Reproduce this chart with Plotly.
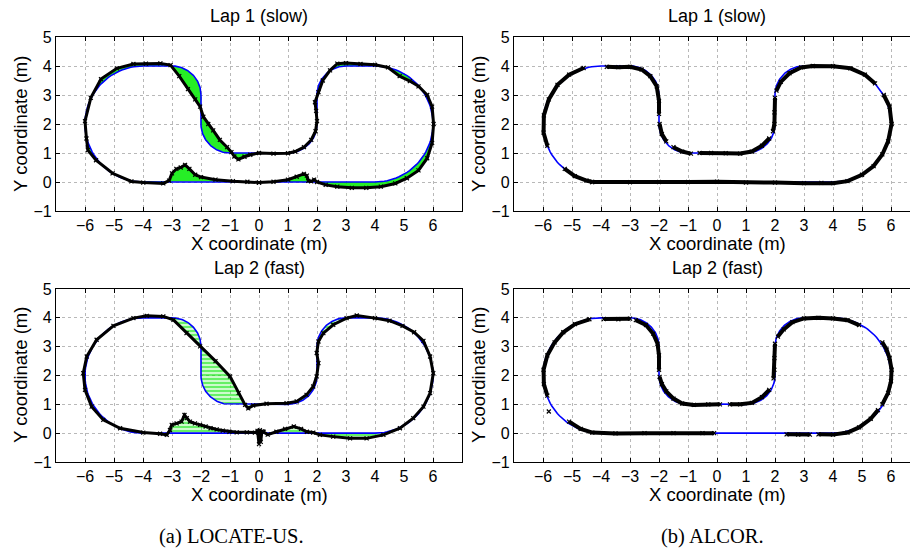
import numpy as np
import plotly.graph_objects as go

# ---------------- data ----------------
# reference track: arcs (centre, radius, start/end angle in degrees), joined by straight lines
arc_cx = [4, 3, 1, -1, -3, -4]
arc_cy = [2, 3, 2, 2, 3, 2]
arc_r = [2, 1, 1, 1, 1, 2]
arc_a0 = [-90, 90, 0, -90, 0, 90]
arc_a1 = [90, 180, -90, -180, 90, 270]

# LOCATE-US, lap 1 (slow)
loc1_x = [0.0, 0.5, 1.0, 1.3, 1.55, 1.65, 1.7, 1.8, 1.9, 2.0, 2.3, 2.7, 3.2, 3.7, 4.2, 4.7, 5.1, 5.5, 5.8, 5.97,
          6.02, 5.97, 5.8, 5.5, 5.2, 4.85, 4.45, 4.0, 3.5, 3.0, 2.7, 2.45, 2.2, 2.05, 1.93, 1.97, 2.0, 1.95, 1.8,
          1.55, 1.25, 1.0, 0.5, 0.0, -0.3, -0.5, -0.71, -0.85, -0.95, -1.1, -1.35, -1.58, -1.75, -1.92, -2.03,
          -2.2, -2.45, -2.75, -3.05, -3.4, -3.9, -4.33, -4.9, -5.45, -5.8, -6.0, -5.95, -5.9, -5.62, -5.05, -4.4,
          -3.99, -3.3, -3.1, -3.0, -2.85, -2.7, -2.55, -2.4, -2.2, -2.0, -1.5, -0.9, -0.4]
loc1_y = [-0.02, 0.01, 0.08, 0.18, 0.28, 0.22, 0.04, 0.02, 0.08, 0.0, -0.1, -0.16, -0.2, -0.2, -0.16, -0.05, 0.13,
          0.4, 0.82, 1.35, 2.0, 2.6, 3.0, 3.3, 3.48, 3.65, 3.95, 4.04, 4.07, 4.1, 4.08, 3.85, 3.5, 3.1, 2.75, 2.45,
          2.1, 1.75, 1.45, 1.2, 1.05, 0.99, 0.98, 1.0, 0.94, 0.87, 0.78, 0.88, 1.03, 1.2, 1.45, 1.78, 2.0, 2.25,
          2.6, 2.85, 3.2, 3.65, 4.03, 4.09, 4.08, 4.07, 3.92, 3.55, 2.9, 2.1, 1.5, 1.1, 0.75, 0.3, 0.02, -0.02,
          -0.05, 0.05, 0.3, 0.45, 0.5, 0.59, 0.45, 0.25, 0.17, 0.08, 0.03, 0.01]

# LOCATE-US, lap 2 (fast)
loc2_x = [0.15, 0.3, 0.6, 0.9, 1.2, 1.45, 1.65, 1.87, 2.1, 2.56, 3.14, 3.71, 4.29, 4.86, 5.32, 5.67, 5.9, 6.01,
          5.9, 5.67, 5.35, 4.95, 4.5, 4.0, 3.37, 3.02, 2.56, 2.22, 2.05, 1.99, 2.05, 1.99, 1.87, 1.64, 1.3, 0.95,
          0.26, -0.2, -0.37, -0.48, -0.7, -1.0, -1.5, -2.03, -2.5, -2.95, -3.3, -3.87, -4.33, -5.02, -5.6, -5.94,
          -6.06, -6.0, -5.77, -5.37, -4.79, -3.99, -3.41, -3.18, -3.07, -3.01, -2.84, -2.67, -2.57, -2.49, -2.38,
          -2.21, -2.03, -1.84, -1.67, -1.46, -1.25, -1.02, -0.77, -0.42, -0.14, -0.05, 0.0, 0.03, 0.06, 0.1]
loc2_y = [0.05, -0.05, 0.05, 0.15, 0.23, 0.15, 0.05, 0.02, -0.06, -0.12, -0.18, -0.18, -0.06, 0.17, 0.52, 0.92,
          1.39, 2.08, 2.66, 3.2, 3.5, 3.72, 3.9, 3.99, 4.08, 3.99, 3.76, 3.47, 3.18, 2.78, 2.43, 1.97, 1.62, 1.33,
          1.1, 1.04, 1.02, 0.96, 0.86, 0.98, 1.4, 1.97, 2.5, 3.01, 3.47, 3.93, 4.05, 4.07, 3.99, 3.72, 3.24, 2.66,
          2.08, 1.5, 0.92, 0.46, 0.17, 0.02, -0.02, -0.06, 0.11, 0.29, 0.34, 0.40, 0.63, 0.52, 0.40, 0.34, 0.29,
          0.23, 0.17, 0.13, 0.09, 0.05, 0.03, 0.03, 0.02, 0.08, -0.38, 0.1, -0.3, 0.06]

# ALCOR, lap 1 (slow)  (None = gap where the reference shows through)
alc1_x = [-4.3, -3.0, -2.0, -1.0, 0.0, 1.0, 2.0, 3.0, 3.6, 4.0, 4.5, 5.0, 5.4, 5.7, 5.9, 6.02, 5.95, 5.75, None,
          5.45, 5.1, 4.6, 4.0, 3.3, 2.9, 2.5, 2.2, 2.05, None,
          2.0, 1.98, 1.98, 1.93, None,
          1.8, 1.55, 1.2, 0.8, 0.3, -0.2, -0.6, None,
          -0.9, -1.2, -1.5, None,
          -1.75, -1.9, -1.98, None,
          -2.0, -2.0, -2.08, -2.3, -2.6, -3.0, -3.4, -3.8, None,
          -4.6, -5.1, -5.5, -5.8, -5.97, -5.98, -5.85, None,
          -5.25, -4.9, -4.5, -4.3]
alc1_y = [0.0, -0.01, 0.0, 0.0, 0.01, -0.02, -0.02, -0.04, -0.03, -0.04, 0.03, 0.25, 0.55, 0.95, 1.4, 2.0, 2.6,
          3.0, None,
          3.4, 3.7, 3.92, 3.99, 4.0, 3.95, 3.75, 3.45, 3.15, None,
          2.9, 2.4, 2.0, 1.75, None,
          1.5, 1.25, 1.05, 0.98, 0.99, 1.0, 1.0, None,
          0.98, 1.05, 1.2, None,
          1.4, 1.65, 2.0, None,
          2.35, 2.8, 3.3, 3.65, 3.88, 3.97, 3.96, 3.97, None,
          3.93, 3.7, 3.35, 2.85, 2.3, 1.7, 1.25, None,
          0.45, 0.2, 0.05, 0.0]

# ALCOR, lap 2 (fast)
alc2_x = [-5.1, -4.7, -4.3, -3.5, -2.5, -1.5, -0.5, -0.1, None,
          2.4, 2.8, 3.2, None,
          3.5, 4.0, 4.5, 4.9, 5.3, 5.55, None,
          5.7, 5.9, 6.0, 6.02, 5.95, 5.85, 5.7, None,
          4.9, 4.5, 4.0, 3.5, 3.0, 2.6, 2.3, 2.1, None,
          2.0, 1.98, 1.98, 1.95, None,
          1.8, 1.55, 1.2, 0.8, 0.45, None,
          0.1, -0.3, -0.8, -1.2, -1.5, -1.75, -1.9, -1.98, None,
          -2.0, -2.0, -2.05, -2.2, -2.45, -2.8, None,
          -3.0, -3.4, -3.9, None,
          -4.4, -4.9, -5.3, -5.6, -5.85, -5.98, -5.97, -5.85, None,
          -5.8]
alc2_y = [0.4, 0.15, 0.02, -0.01, 0.0, 0.0, 0.0, 0.0, None,
          -0.04, -0.05, -0.05, None,
          -0.04, -0.05, 0.02, 0.2, 0.5, 0.8, None,
          1.0, 1.4, 1.8, 2.2, 2.6, 2.9, 3.15, None,
          3.75, 3.92, 3.98, 4.0, 3.98, 3.85, 3.6, 3.35, None,
          3.1, 2.6, 2.2, 1.9, None,
          1.5, 1.25, 1.05, 1.0, 1.0, None,
          1.0, 1.0, 0.98, 1.03, 1.2, 1.45, 1.7, 1.95, None,
          2.2, 2.7, 3.1, 3.45, 3.75, 3.92, None,
          3.97, 3.95, 3.96, None,
          3.95, 3.78, 3.5, 3.15, 2.7, 2.2, 1.7, 1.3, None,
          0.75]

x_ticks = [-6, -5, -4, -3, -2, -1, 0, 1, 2, 3, 4, 5, 6]
y_ticks = [-1, 0, 1, 2, 3, 4, 5]
titles = ["Lap 1 (slow)", "Lap 1 (slow)", "Lap 2 (fast)", "Lap 2 (fast)"]
captions = ["(a) LOCATE-US.", "(b) ALCOR."]

# ---------------- build reference path ----------------
ref_x, ref_y = [], []
for cx, cy, r, a0, a1 in zip(arc_cx, arc_cy, arc_r, arc_a0, arc_a1):
    t = np.radians(np.linspace(a0, a1, 60))
    ref_x += list(cx + r * np.cos(t))
    ref_y += list(cy + r * np.sin(t))
ref_x.append(ref_x[0])
ref_y.append(ref_y[0])

W, H = 910, 550
BLUE = "#0000ff"
SANS = "Liberation Sans, Arial, Helvetica, sans-serif"

fig = go.Figure()

panels = [
    dict(mx=loc1_x, my=loc1_y, kind="loc", fill="solid"),
    dict(mx=alc1_x, my=alc1_y, kind="alc", fill=None),
    dict(mx=loc2_x, my=loc2_y, kind="loc", fill="hatch"),
    dict(mx=alc2_x, my=alc2_y, kind="alc", fill=None),
]

for i, p in enumerate(panels):
    xa = "x" if i == 0 else f"x{i+1}"
    ya = "y" if i == 0 else f"y{i+1}"
    mx, my = p["mx"], p["my"]
    if p["fill"]:
        fx = list(mx) + [mx[0]] + ref_x[::-1]
        fy = list(my) + [my[0]] + ref_y[::-1]
        kw = dict(fillcolor="rgba(0,235,0,0.85)")
        if p["fill"] == "hatch":
            kw = dict(fillcolor="rgba(0,235,0,0.25)",
                      fillpattern=dict(shape="-", fgcolor="#00e600", bgcolor="rgba(0,235,0,0.2)",
                                       size=4, solidity=0.5))
        fig.add_trace(go.Scatter(x=fx, y=fy, mode="lines", fill="toself", line=dict(width=0),
                                 xaxis=xa, yaxis=ya, hoverinfo="skip", showlegend=False, **kw))
    fig.add_trace(go.Scatter(x=ref_x, y=ref_y, mode="lines", line=dict(color=BLUE, width=1.6),
                             xaxis=xa, yaxis=ya, showlegend=False))
    if p["kind"] == "loc":
        cx = list(mx) + [mx[0]]
        cy = list(my) + [my[0]]
        fig.add_trace(go.Scatter(x=cx, y=cy, mode="lines+markers",
                                 line=dict(color="black", width=3),
                                 marker=dict(symbol="x-thin", size=4, line=dict(color="black", width=1.2)),
                                 xaxis=xa, yaxis=ya, showlegend=False))
    else:
        fig.add_trace(go.Scatter(x=mx, y=my, mode="lines+markers", connectgaps=False,
                                 line=dict(color="black", width=4),
                                 marker=dict(symbol="x-thin", size=4, line=dict(color="black", width=1.2)),
                                 xaxis=xa, yaxis=ya, showlegend=False))

dom_x = [[56 / W, 462 / W], [514 / W, 1.0], [56 / W, 462 / W], [514 / W, 1.0]]
dom_y = [[1 - 211 / H, 1 - 37 / H], [1 - 211 / H, 1 - 37 / H], [1 - 462 / H, 1 - 289 / H], [1 - 462 / H, 1 - 289 / H]]
x_rng = [[-7, 7], [-7, -7 + 396 / 29], [-7, 7], [-7, -7 + 396 / 29]]

layout = dict(width=W, height=H, margin=dict(l=0, r=0, t=0, b=0),
              paper_bgcolor="white", plot_bgcolor="white", showlegend=False,
              font=dict(family=SANS, size=16, color="black"))
for i in range(4):
    xk = "xaxis" if i == 0 else f"xaxis{i+1}"
    yk = "yaxis" if i == 0 else f"yaxis{i+1}"
    ya = "y" if i == 0 else f"y{i+1}"
    xa = "x" if i == 0 else f"x{i+1}"
    layout[xk] = dict(domain=dom_x[i], range=x_rng[i], anchor=ya, tickmode="array", tickvals=x_ticks,
                      showgrid=True, gridcolor="#b8b8b8", griddash="dot", gridwidth=1,
                      zeroline=False, showline=True, linecolor="black", linewidth=1.2, mirror="ticks",
                      ticks="inside", ticklen=4, tickcolor="black",
                      tickfont=dict(family=SANS, size=16), automargin=False, fixedrange=True)
    layout[yk] = dict(domain=dom_y[i], range=[-1, 5], anchor=xa, tickmode="array", tickvals=y_ticks,
                      showgrid=True, gridcolor="#b8b8b8", griddash="dot", gridwidth=1,
                      zeroline=False, showline=True, linecolor="black", linewidth=1.2,
                      mirror=("ticks" if i in (0, 2) else False),
                      ticks="inside", ticklen=4, tickcolor="black",
                      tickfont=dict(family=SANS, size=16), automargin=False, fixedrange=True)

ann = []
title_pos = [(259, 16), (717, 16), (259, 268), (717, 268)]
xlab_pos = [(259, 244), (717, 244), (259, 494), (717, 494)]
ylab_pos = [(20, 124), (478, 124), (20, 375), (478, 375)]
for i in range(4):
    tx, ty = title_pos[i]
    ann.append(dict(text=titles[i], x=tx / W, y=1 - ty / H, xref="paper", yref="paper",
                    xanchor="center", yanchor="middle", showarrow=False, font=dict(family=SANS, size=18)))
    lx, ly = xlab_pos[i]
    ann.append(dict(text="X coordinate (m)", x=lx / W, y=1 - ly / H, xref="paper", yref="paper",
                    xanchor="center", yanchor="middle", showarrow=False, font=dict(family=SANS, size=18.5)))
    vx, vy = ylab_pos[i]
    ann.append(dict(text="Y coordinate (m)", x=vx / W, y=1 - vy / H, xref="paper", yref="paper",
                    xanchor="center", yanchor="middle", textangle=-90, showarrow=False,
                    font=dict(family=SANS, size=18.5)))
for cap, cx in zip(captions, [231, 712]):
    ann.append(dict(text=cap, x=cx / W, y=1 - 536 / H, xref="paper", yref="paper",
                    xanchor="center", yanchor="middle", showarrow=False,
                    font=dict(family="Liberation Serif, DejaVu Serif, serif", size=20.5)))
layout["annotations"] = ann
fig.update_layout(**layout)

fig.write_html("out.html", config={"displayModeBar": False},
               post_script="document.body.style.margin='0px';document.body.style.overflow='hidden';")
